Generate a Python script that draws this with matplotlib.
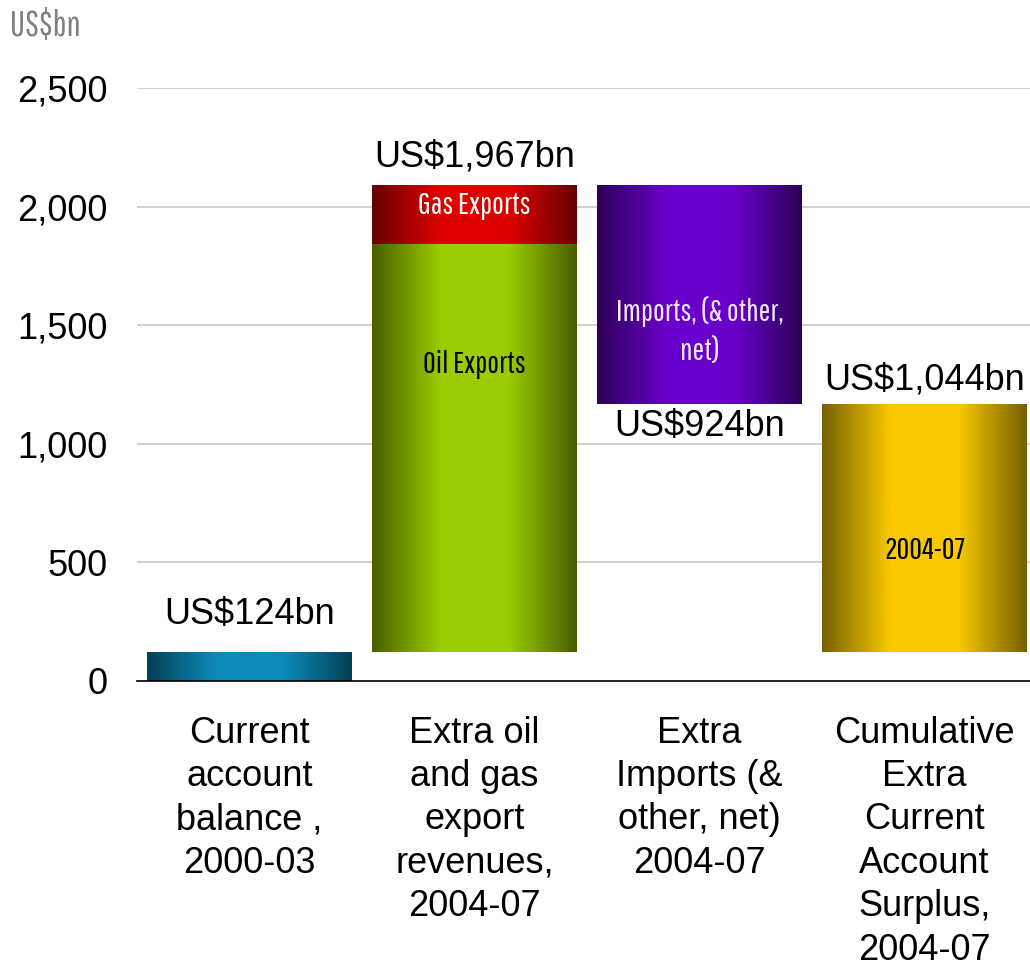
import matplotlib.pyplot as plt
import numpy as np
from matplotlib.colors import LinearSegmentedColormap
from matplotlib import font_manager

# waterfall values, US$bn
current_2000_03 = 124
oil_exports = 1717
gas_exports = 250
extra_imports = 924
surplus_2004_07 = 1044

categories = ["Current\naccount\nbalance ,\n2000-03",
              "Extra oil\nand gas\nexport\nrevenues,\n2004-07",
              "Extra\nImports (&\nother, net)\n2004-07",
              "Cumulative\nExtra\nCurrent\nAccount\nSurplus,\n2004-07"]
value_labels = ["US$124bn", "US$1,967bn", "US$924bn", "US$1,044bn"]
yticks = [0, 500, 1000, 1500, 2000, 2500]

# pick a thin condensed face for the in-bar labels
names = {f.name for f in font_manager.fontManager.ttflist}
narrow, nsize = "DejaVu Sans", 18
for cand, sz in [("Pathway Gothic One", 22.5), ("Oswald", 20),
                 ("Roboto Condensed", 21), ("Archivo Narrow", 21)]:
    if cand in names:
        narrow, nsize = cand, sz
        break
plt.rcParams["font.family"] = ["Liberation Sans", "DejaVu Sans"]

fig = plt.figure(figsize=(10.3, 9.69), dpi=100)
ax = fig.add_axes([137 / 1030, 1 - 681 / 969, 900 / 1030, (681 - 88) / 969])


def shaded(bar, edge, mid):
    # horizontal metallic shading clipped to the bar
    cmap = LinearSegmentedColormap.from_list("s", [edge, mid, mid, edge])
    prof = np.linspace(0, 1, 256)[None, :]
    x0, y0 = bar.get_x(), bar.get_y()
    im = ax.imshow(prof, cmap=cmap, aspect="auto", interpolation="bicubic",
                   extent=[x0, x0 + bar.get_width(), y0, y0 + bar.get_height()],
                   zorder=2)
    im.set_clip_path(bar)
    bar.set_facecolor("none")


w = 0.91
gas_base = current_2000_03 + oil_exports
top = gas_base + gas_exports

b1 = ax.bar(0, current_2000_03, w, zorder=2)[0]
b2 = ax.bar(1, oil_exports, w, bottom=current_2000_03, zorder=2)[0]
b3 = ax.bar(1, gas_exports, w, bottom=gas_base, zorder=2)[0]
b4 = ax.bar(2, extra_imports, w, bottom=top - extra_imports, zorder=2)[0]
b5 = ax.bar(3, surplus_2004_07, w, bottom=current_2000_03, zorder=2)[0]

shaded(b1, "#053f55", "#0b8bb8")
shaded(b2, "#4a5e00", "#9acd00")
shaded(b3, "#660000", "#e00000")
shaded(b4, "#2c0055", "#6a00cc")
shaded(b5, "#766000", "#fac900")

ax.set_xlim(-0.5, 3.5)
ax.set_ylim(0, 2500)
ax.set_yticks(yticks)
ax.set_yticklabels([f"{v:,}" for v in yticks])
ax.set_xticks(range(4))
ax.set_xticklabels(categories, linespacing=1.31)
ax.tick_params(axis="y", length=0, pad=21, labelsize=26)
ax.tick_params(axis="x", length=0, pad=25, labelsize=26)
ax.grid(axis="y", color="#c8c8c8", lw=1.2, zorder=0)
ax.set_axisbelow(True)
for s in ["left", "right", "top"]:
    ax.spines[s].set_visible(False)
ax.spines["bottom"].set_color("black")
ax.spines["bottom"].set_linewidth(1.2)
ax.spines["bottom"].set_zorder(3)

# value labels
lab = dict(ha="center", fontsize=26, color="black")
ax.text(0, current_2000_03 + 83, value_labels[0], va="bottom", **lab)
ax.text(1, top + 45, value_labels[1], va="bottom", **lab)
ax.text(2, top - extra_imports - 20, value_labels[2], va="top", **lab)
ax.text(3, current_2000_03 + surplus_2004_07 + 28, value_labels[3], va="bottom", **lab)

# in-bar labels
inner = dict(ha="center", va="center", fontsize=nsize, family=narrow)
ax.text(1, gas_base + gas_exports / 2 + 40, "Gas Exports", color="white", **inner)
ax.text(1, 1335, "Oil Exports", color="black", **inner)
ax.text(2, 1475, "Imports, (& other,\nnet)", color="#f0e8ff", linespacing=1.4, **inner)
ax.text(3, 550, "2004-07", color="black", **inner)

fig.text(10 / 1030, 1 - 25 / 969, "US$bn", ha="left", va="center",
         fontsize=nsize + 3, color="#808080", family=narrow)

fig.savefig("out.png", dpi=100)
